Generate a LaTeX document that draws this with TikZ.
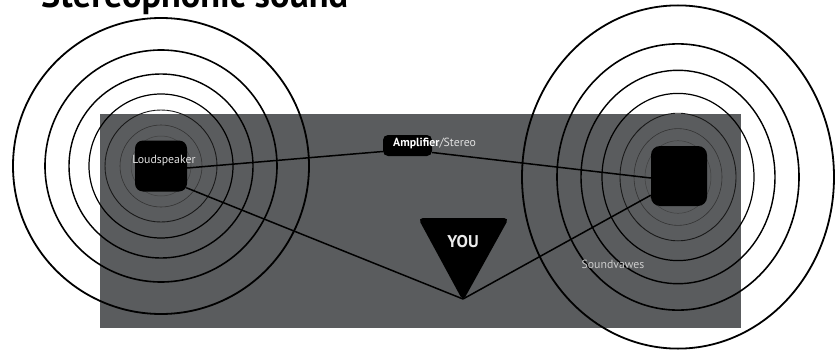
\documentclass[tikz,border=0pt]{standalone}
\usepackage{fontspec}
\setmainfont{PT Sans}
\usepackage{graphicx}
\begin{document}
\begin{tikzpicture}[x=1pt,y=-1pt,
  ring/.style={draw=black},
  wire/.style={draw=black,line width=1.5pt},
  spk/.style={fill=black,rounded corners=8pt,inner sep=0pt},
  lbl/.style={text=black!12,font=\fontsize{11.8}{13}\selectfont,inner sep=0pt}]
\useasboundingbox (0,0) rectangle (840,353);
\fill[white] (0,0) rectangle (840,353);
% title (clipped at top)
\node[anchor=base west,inner sep=0pt] (title) at (41,8)
  {\resizebox{307pt}{!}{\bfseries Stereophonic sound}};
% background panel
\fill[fill={rgb,255:red,90;green,92;blue,94}] (100,114) rectangle (741,328);
% left sound waves
\foreach \r/\w/\c in {148/1.8/100,116/1.6/100,92/1.4/100,72/1.2/100,56/0.9/90,41/0.6/80,30/0.5/75}
  \draw[ring,draw=black!\c,line width=\w pt] (161,166) circle [radius=\r];
% right sound waves
\foreach \r/\w/\c in {156/1.8/100,121/1.6/100,97/1.4/100,76/1.2/100,58/0.9/90,44/0.6/80,33/0.5/75}
  \draw[ring,draw=black!\c,line width=\w pt] (678,177) ellipse [x radius=\r, y radius=1.1*\r];
% nodes
\node[spk,minimum width=52pt,minimum height=51pt] (spL) at (161,166) {};
\node[spk,minimum width=56pt,minimum height=60pt,rounded corners=9pt] (spR) at (679,176) {};
\node[fill=black,rounded corners=5pt,minimum width=49pt,minimum height=21pt,inner sep=0pt] (amp) at (407.5,145.5) {};
\coordinate (tip) at (463,299);
% wires
\draw[wire] ([yshift=-2pt]spL.east) -- ([yshift=-6pt]amp.west);
\draw[wire] ([yshift=-7pt]amp.east) -- ([yshift=-2pt]spR.west);
\draw[wire] ([xshift=-1pt,yshift=4pt]spL.south east) -- (tip);
\draw[wire] (tip) -- ([yshift=11pt]spR.south west);
% listener triangle
\fill[black,rounded corners=5pt] (418,218) -- (509,218) -- (463,301) -- cycle;
\node[text=black!8,font=\fontsize{17}{20}\selectfont\bfseries,inner sep=0pt] (you) at (463,242) {YOU};
% labels
\node[lbl] (ltxt) at (164,161) {Loudspeaker};
\node[lbl,anchor=west] (amptxt) at (393,143) {\textbf{\color{white}Amplifier}/Stereo};
\node[lbl,text=black!20] (waves) at (613,264) {Soundvawes};
\end{tikzpicture}
\end{document}
